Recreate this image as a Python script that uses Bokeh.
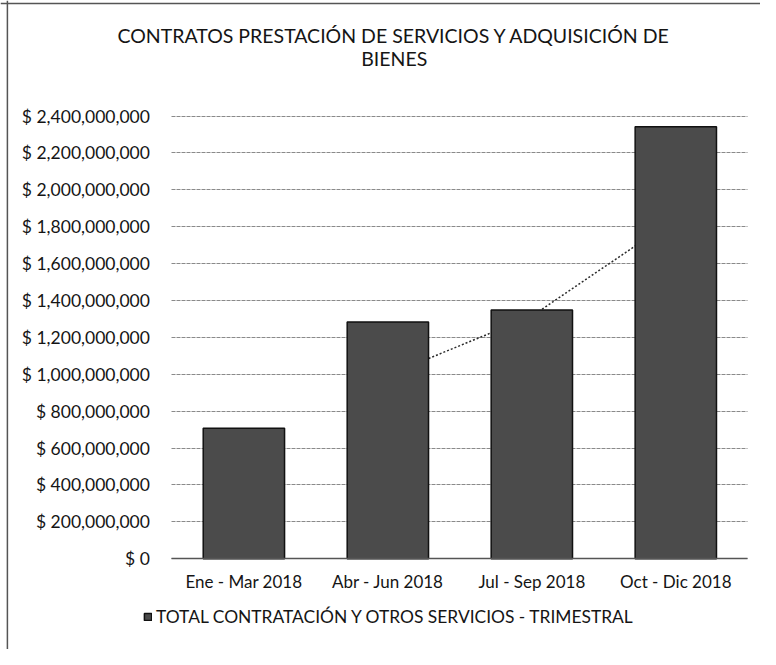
from bokeh.plotting import figure
from bokeh.models import (Range1d, FixedTicker, Label, Legend, LegendItem, Span)
from bokeh.embed import file_html
from bokeh.resources import INLINE

# ---- data ----
categories = ["Ene - Mar 2018", "Abr - Jun 2018", "Jul - Sep 2018", "Oct - Dic 2018"]
values = [707_000_000, 1_283_000_000, 1_348_000_000, 2_342_000_000]
y_ticks = [0, 200e6, 400e6, 600e6, 800e6, 1000e6, 1200e6, 1400e6, 1600e6,
           1800e6, 2000e6, 2200e6, 2400e6]
y_tick_labels = ["$ 0", "$ 200,000,000", "$ 400,000,000", "$ 600,000,000",
                 "$ 800,000,000", "$ 1,000,000,000", "$ 1,200,000,000",
                 "$ 1,400,000,000", "$ 1,600,000,000", "$ 1,800,000,000",
                 "$ 2,000,000,000", "$ 2,200,000,000", "$ 2,400,000,000"]
title_lines = ["CONTRATOS PRESTACIÓN DE SERVICIOS Y ADQUISICIÓN DE", "BIENES"]
series_name = "TOTAL CONTRATACIÓN Y OTROS SERVICIOS - TRIMESTRAL"

# category slots on a numeric axis (slot i spans i..i+1)
x_pos = [i + 0.5 for i in range(len(categories))]
n_cat = len(categories)
y_max = y_ticks[-1]

# 2-period moving average trendline (as in the spreadsheet chart)
ma_x = x_pos[1:]
ma_y = [(values[i - 1] + values[i]) / 2 for i in range(1, len(values))]

FONT = "Lato"
TXT = "#151515"

W, H = 760, 649
# pixel layout of the plotting area inside the canvas
PL, PR, PT, PB = 171.4, 747.3, 115.6, 558.2
ux = (PR - PL) / n_cat
uy = y_max / (PB - PT)

p = figure(width=W, height=H,
           x_range=Range1d(-PL / ux, n_cat + (W - PR) / ux),
           y_range=Range1d(-(H - PB) * uy, y_max + PT * uy),
           output_backend="svg", toolbar_location=None,
           min_border=0, min_border_left=0, min_border_right=0,
           min_border_top=0, min_border_bottom=0)
p.outline_line_color = None
p.background_fill_color = "white"
p.border_fill_color = "white"

# horizontal gridlines limited to the category area
p.xgrid.visible = False
g = p.ygrid[0]
g.ticker = FixedTicker(ticks=y_ticks)
g.grid_line_color = "#8a8a8a"
g.grid_line_width = 1
g.grid_line_dash = "4 1"
if "cross_bounds" in g.properties():
    g.cross_bounds = (0, n_cat)
else:
    g.visible = False
    p.segment(x0=[0] * len(y_ticks[1:]), x1=[n_cat] * len(y_ticks[1:]),
              y0=y_ticks[1:], y1=y_ticks[1:], line_color="#8a8a8a",
              line_width=1, line_dash="4 1")

# trendline behind the bars
p.line(x=ma_x, y=ma_y, line_color="#2b2b2b", line_width=1.5, line_dash="2 2")

bars = p.vbar(x=x_pos, top=values, width=0.565, fill_color="#4b4b4b",
              line_color="#111111", line_width=1.5)

# axes drawn at fixed positions inside the canvas
ya = p.yaxis[0]
ya.fixed_location = 0
ya.ticker = FixedTicker(ticks=y_ticks)
ya.major_label_overrides = {t: l for t, l in zip(y_ticks, y_tick_labels)}
ya.axis_line_color = None
ya.major_tick_line_color = None
ya.minor_tick_line_color = None
ya.major_label_standoff = 16
ya.major_label_text_font = FONT
ya.major_label_text_font_size = "17.5px"
ya.major_label_text_color = TXT

xa = p.xaxis[0]
xa.fixed_location = 0
xa.bounds = (0, n_cat)
xa.ticker = FixedTicker(ticks=x_pos)
xa.major_label_overrides = {x: c for x, c in zip(x_pos, categories)}
xa.axis_line_color = "#555555"
xa.axis_line_width = 1.5
xa.major_tick_line_color = None
xa.minor_tick_line_color = None
xa.major_label_standoff = 6
xa.major_label_text_font = FONT
xa.major_label_text_font_size = "17px"
xa.major_label_text_color = TXT

# title, centred on the chart area
tx = (393.7 - PL) / ux
p.add_layout(Label(x=tx, y=(PB - 35) * uy, text=title_lines[0],
                   text_align="center", text_baseline="middle",
                   text_font=FONT, text_font_size="19.5px", text_color=TXT))
p.add_layout(Label(x=tx, y=(PB - 57.6) * uy, text=title_lines[1],
                   text_align="center", text_baseline="middle",
                   text_font=FONT, text_font_size="19.5px", text_color=TXT))

legend = Legend(items=[LegendItem(label=series_name, renderers=[bars])],
                location=(143, 22), orientation="horizontal",
                glyph_width=9, glyph_height=9, label_standoff=4,
                padding=0, margin=0, border_line_color=None,
                background_fill_alpha=0, label_text_font=FONT,
                label_text_font_size="17.4px", label_text_color=TXT)
p.add_layout(legend, "center")

# chart-area border (left and top edges)
p.add_layout(Span(location=(6.9 - PL) / ux, dimension="height",
                  line_color="#555555", line_width=1.5))
p.add_layout(Span(location=(PB - 2.9) * uy, dimension="width",
                  line_color="#555555", line_width=1.5))

open("out.html", "w").write(file_html(p, INLINE))
